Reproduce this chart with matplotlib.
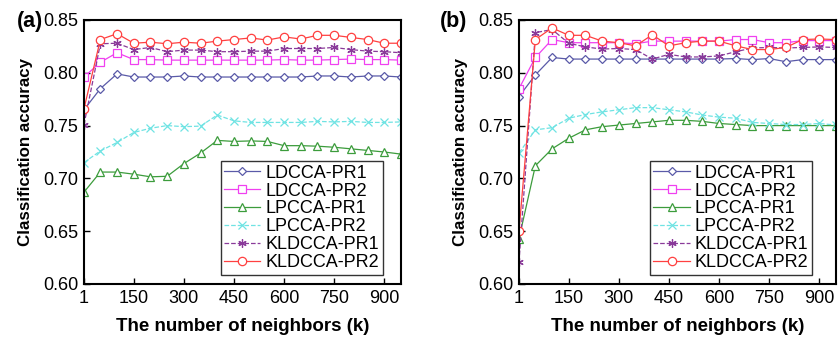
import matplotlib
matplotlib.use("Agg")
import matplotlib.pyplot as plt

plt.rcParams['font.family'] = ['Liberation Sans', 'DejaVu Sans']

# neighbours k
k = [1, 50, 100, 150, 200, 250, 300, 350, 400, 450,
     500, 550, 600, 650, 700, 750, 800, 850, 900, 950]

labels = ['LDCCA-PR1', 'LDCCA-PR2', 'LPCCA-PR1', 'LPCCA-PR2',
          'KLDCCA-PR1', 'KLDCCA-PR2']

# panel (a)
a_ldcca_pr1 = [0.765, 0.785, 0.799, 0.796, 0.796, 0.796, 0.797, 0.796, 0.796, 0.796,
               0.796, 0.796, 0.796, 0.796, 0.797, 0.797, 0.796, 0.797, 0.797, 0.796]
a_ldcca_pr2 = [0.796, 0.810, 0.819, 0.8125, 0.8125, 0.812, 0.812, 0.812, 0.812, 0.812,
               0.812, 0.812, 0.8125, 0.812, 0.812, 0.8125, 0.813, 0.8125, 0.8125, 0.812]
a_lpcca_pr1 = [0.687, 0.706, 0.706, 0.704, 0.7015, 0.702, 0.714, 0.724, 0.736, 0.735,
               0.7355, 0.735, 0.731, 0.731, 0.7305, 0.7295, 0.728, 0.7265, 0.725, 0.723]
a_lpcca_pr2 = [0.715, 0.726, 0.734, 0.7435, 0.7475, 0.750, 0.749, 0.7495, 0.760, 0.7545,
               0.753, 0.753, 0.753, 0.753, 0.754, 0.7535, 0.754, 0.753, 0.753, 0.7535]
a_kldcca_pr1 = [0.751, 0.8275, 0.828, 0.822, 0.824, 0.820, 0.8215, 0.8215, 0.820, 0.820,
                0.8205, 0.8205, 0.823, 0.823, 0.823, 0.824, 0.822, 0.8205, 0.820, 0.819]
a_kldcca_pr2 = [0.766, 0.8315, 0.837, 0.828, 0.829, 0.8275, 0.829, 0.828, 0.830, 0.8315,
                0.833, 0.831, 0.834, 0.832, 0.8355, 0.8355, 0.8335, 0.8315, 0.828, 0.828]

# panel (b)
b_ldcca_pr1 = [0.7775, 0.798, 0.8145, 0.813, 0.813, 0.813, 0.813, 0.813, 0.813, 0.813,
               0.813, 0.813, 0.813, 0.8135, 0.8125, 0.8135, 0.8105, 0.8125, 0.8125, 0.8125]
b_ldcca_pr2 = [0.785, 0.8145, 0.8315, 0.8285, 0.8285, 0.8285, 0.8285, 0.8275, 0.830, 0.830,
               0.830, 0.830, 0.830, 0.8315, 0.8315, 0.8285, 0.8285, 0.8305, 0.8305, 0.8305]
b_lpcca_pr1 = [0.643, 0.712, 0.728, 0.738, 0.746, 0.749, 0.7505, 0.752, 0.7535, 0.755,
               0.755, 0.754, 0.752, 0.751, 0.750, 0.750, 0.750, 0.750, 0.750, 0.750]
b_lpcca_pr2 = [0.724, 0.746, 0.748, 0.757, 0.7605, 0.763, 0.765, 0.767, 0.767, 0.765,
               0.763, 0.760, 0.758, 0.757, 0.753, 0.752, 0.751, 0.751, 0.752, 0.7505]
b_kldcca_pr1 = [0.621, 0.838, 0.841, 0.828, 0.8245, 0.8225, 0.823, 0.822, 0.813, 0.8175,
                0.815, 0.815, 0.816, 0.820, 0.8235, 0.824, 0.8235, 0.824, 0.8245, 0.824]
b_kldcca_pr2 = [0.650, 0.8315, 0.8425, 0.8355, 0.8355, 0.830, 0.8285, 0.8255, 0.836, 0.8255,
                0.8285, 0.830, 0.830, 0.8255, 0.822, 0.822, 0.824, 0.8315, 0.832, 0.8315]

styles = [
    dict(color='#5a5aa8', ls='-', marker='D', ms=4.5),
    dict(color='#f040f0', ls='-', marker='s', ms=5.5),
    dict(color='#3c9c3c', ls='-', marker='^', ms=6),
    dict(color='#6fe3e3', ls='--', marker='x', ms=5.5),
    dict(color='#8a3a9a', ls='--', marker=(6, 2, 0), ms=6),
    dict(color='#ff4040', ls='-', marker='o', ms=6),
]

fig = plt.figure(figsize=(8.38, 3.42), dpi=100)
W, H = 838.0, 342.0
ax_a = fig.add_axes([84 / W, 1 - 284 / H, 317 / W, 264 / H])
ax_b = fig.add_axes([519 / W, 1 - 284 / H, 317 / W, 264 / H])

panels = [
    (ax_a, [a_ldcca_pr1, a_ldcca_pr2, a_lpcca_pr1, a_lpcca_pr2, a_kldcca_pr1, a_kldcca_pr2],
     0.943),
    (ax_b, [b_ldcca_pr1, b_ldcca_pr2, b_lpcca_pr1, b_lpcca_pr2, b_kldcca_pr1, b_kldcca_pr2],
     0.925),
]

for ax, series, leg_x in panels:
    for ys, lab, st in zip(series, labels, styles):
        ax.plot(k, ys, label=lab, color=st['color'], ls=st['ls'], lw=0.9,
                marker=st['marker'], ms=st['ms'], mfc='white', mec=st['color'],
                mew=0.9)
    ax.set_xlim(1, 950)
    ax.set_ylim(0.60, 0.85)
    ax.set_xticks([1, 150, 300, 450, 600, 750, 900])
    ax.set_yticks([0.60, 0.65, 0.70, 0.75, 0.80, 0.85])
    ax.set_yticklabels(['%.2f' % v for v in [0.60, 0.65, 0.70, 0.75, 0.80, 0.85]])
    ax.tick_params(direction='in', length=4, width=1, labelsize=13, pad=4)
    for sp in ax.spines.values():
        sp.set_linewidth(1.5)
    ax.set_xlabel('The number of neighbors (k)', fontsize=13.5, fontweight='bold', labelpad=8)
    ax.set_ylabel('Classification accuracy', fontsize=12.2, fontweight='bold', labelpad=7)
    leg = ax.legend(loc='lower right', bbox_to_anchor=(leg_x, 0.035), borderaxespad=0,
                    fontsize=13, frameon=True, fancybox=False, edgecolor='black',
                    handlelength=2.0, handletextpad=0.3, labelspacing=0.05,
                    borderpad=0.2)
    leg.get_frame().set_linewidth(1.0)

fig.text(17 / W, 1 - 21 / H, '(a)', fontsize=15.5, fontweight='bold', va='center')
fig.text(440 / W, 1 - 21 / H, '(b)', fontsize=15.5, fontweight='bold', va='center')

fig.savefig('out.png', dpi=100)
